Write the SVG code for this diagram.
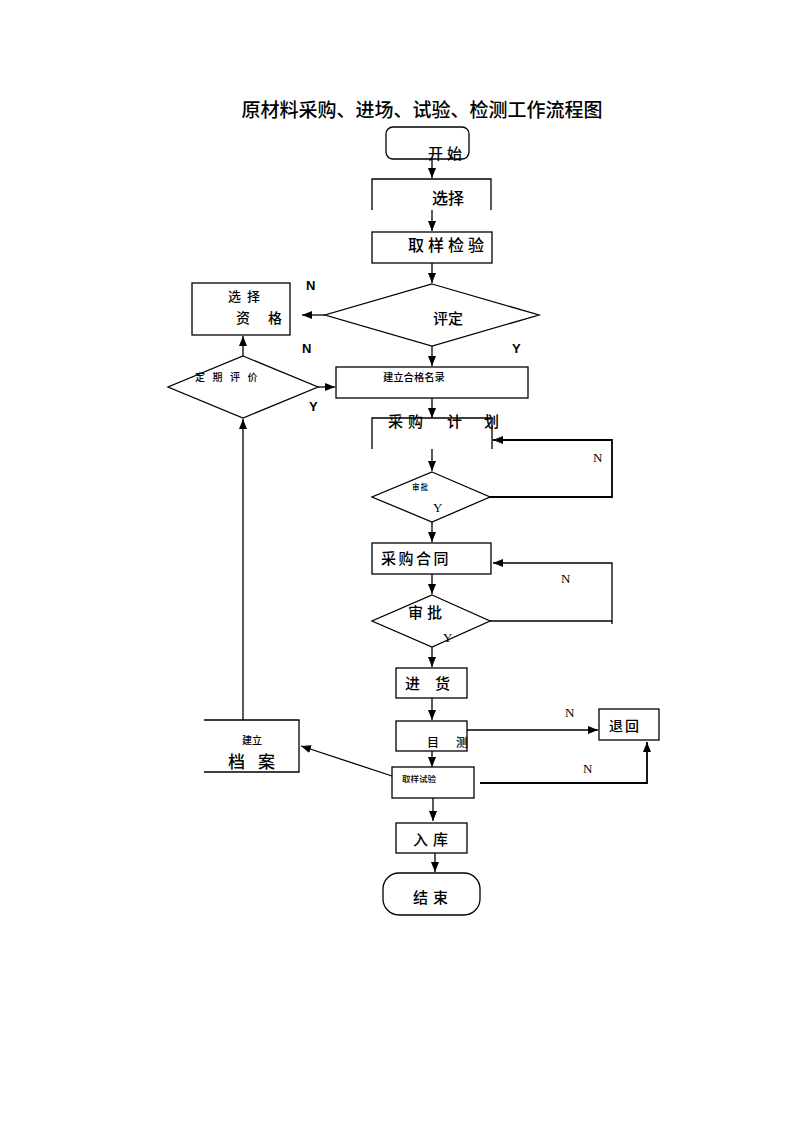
<svg xmlns="http://www.w3.org/2000/svg" width="793" height="1122" viewBox="0 0 793 1122">
<style>
.s{fill:none;stroke:#000;stroke-width:1.3}
.w{fill:#fff;stroke:#000;stroke-width:1.3}
.t{font-family:"Noto Sans CJK SC","Liberation Sans",sans-serif;font-weight:500;fill:#000}
.b{font-family:"Liberation Sans",Arial,sans-serif;font-weight:bold;font-size:13px;fill:#000}
.r{font-family:"Liberation Serif","Times New Roman",serif;font-size:13px;fill:#000}
.c line,.c polyline,.c path{fill:none;stroke:#000;stroke-width:1.3}
</style>
<defs>
<marker id="a" markerUnits="userSpaceOnUse" markerWidth="10" markerHeight="10" viewBox="0 0 10 10" refX="10" refY="5" orient="auto">
<path d="M0,1 L10,5 L0,9 Z" fill="#000"/>
</marker>
</defs>
<rect width="793" height="1122" fill="#fff"/>
<text class="t" x="422" y="117" font-size="19" font-weight="bold" text-anchor="middle">原材料采购、进场、试验、检测工作流程图</text>

<g class="c" id="connectors">
<line x1="432" y1="159" x2="432" y2="178" marker-end="url(#a)"/>
<line x1="432" y1="210" x2="432" y2="231" marker-end="url(#a)"/>
<line x1="432" y1="263" x2="432" y2="283" marker-end="url(#a)"/>
<line x1="325" y1="315" x2="302" y2="315" marker-end="url(#a)"/>
<line x1="432" y1="346" x2="432" y2="366" marker-end="url(#a)"/>
<line x1="318" y1="387" x2="335" y2="387" marker-end="url(#a)"/>
<line x1="243" y1="356" x2="243" y2="336" marker-end="url(#a)"/>
<line x1="243" y1="720" x2="243" y2="419" marker-end="url(#a)"/>
<line x1="432" y1="398" x2="432" y2="418" marker-end="url(#a)"/>
<line x1="432" y1="449" x2="432" y2="471" marker-end="url(#a)"/>
<polyline points="490,497 612,497 612,440 493,440" marker-end="url(#a)" style="stroke-width:1.8"/>
<line x1="432" y1="522" x2="432" y2="542" marker-end="url(#a)"/>
<polyline points="490,621 612,621 612,563 493,563" marker-end="url(#a)"/>
<line x1="612" y1="621" x2="612" y2="624"/>
<line x1="432" y1="574" x2="432" y2="594" marker-end="url(#a)"/>
<line x1="432" y1="647" x2="432" y2="667" marker-end="url(#a)"/>
<line x1="432" y1="698" x2="432" y2="720" marker-end="url(#a)"/>
<line x1="467" y1="730" x2="598" y2="730" marker-end="url(#a)"/>
<line x1="432" y1="751" x2="432" y2="767" marker-end="url(#a)"/>
<polyline points="480,783 647,783 647,742" marker-end="url(#a)" style="stroke-width:1.8"/>
<line x1="392" y1="776" x2="301" y2="746" marker-end="url(#a)"/>
<line x1="433" y1="798" x2="433" y2="821" marker-end="url(#a)"/>
<line x1="435" y1="853" x2="435" y2="872" marker-end="url(#a)"/>
</g>

<g id="start"><rect class="s" x="386" y="127" width="83" height="32" rx="7"/><text class="t" x="428" y="159" font-size="15" letter-spacing="4">开始</text></g>
<g id="select"><path class="s" d="M372,210 V179 H491 V210"/><text class="t" x="432" y="204" font-size="16">选择</text></g>
<g id="sample"><rect class="s" x="372" y="232" width="120" height="31"/><text class="t" x="408" y="251" font-size="16" letter-spacing="4">取样检验</text></g>
<g id="evaluate"><polygon class="w" points="432,284 539,315 432,346 325,315"/><text class="t" x="433" y="324" font-size="15">评定</text></g>
<g id="qualify"><rect class="s" x="192" y="283" width="98" height="52"/><text class="t" x="228" y="301" font-size="13" letter-spacing="6">选择</text><text class="t" x="236" y="323" font-size="14" letter-spacing="18">资格</text></g>
<g id="periodic"><polygon class="w" points="243,356 318,387 243,418 168,387"/><text class="t" x="195" y="381" font-size="10" letter-spacing="7.5">定期评价</text></g>
<g id="register"><rect class="s" x="336" y="367" width="192" height="31"/><text class="t" x="383" y="381" font-size="10.3">建立合格名录</text></g>
<g id="plan"><path class="s" d="M372,449 V418 H492 V449"/><text class="t" font-size="15" y="427"><tspan x="388">采</tspan><tspan x="408">购</tspan><tspan x="447">计</tspan><tspan x="484">划</tspan></text></g>
<g id="approve1"><polygon class="w" points="432,472 490,497 432,522 372,497"/><text class="t" x="412" y="490" font-size="7.5" letter-spacing="1">审批</text><text class="r" x="433" y="512">Y</text></g>
<g id="contract"><rect class="s" x="372" y="543" width="119" height="31"/><text class="t" x="381" y="564" font-size="15" letter-spacing="2.5">采购合同</text></g>
<g id="approve2"><polygon class="w" points="432,595 490,621 432,647 372,621"/><text class="t" x="408" y="618" font-size="15" letter-spacing="4">审批</text><text class="r" x="443" y="642">Y</text></g>
<g id="goods"><rect class="s" x="396" y="668" width="71" height="30"/><text class="t" x="405" y="689" font-size="15" letter-spacing="15">进货</text></g>
<g id="inspect"><rect class="s" x="396" y="721" width="71" height="30"/><text class="t" font-size="12" y="747"><tspan x="427">目</tspan><tspan x="456">测</tspan></text></g>
<g id="return"><rect class="s" x="599" y="709" width="60" height="31"/><text class="t" x="609" y="731" font-size="14" letter-spacing="2">退回</text></g>
<g id="test"><rect class="s" x="392" y="767" width="82" height="31"/><text class="t" x="402" y="782" font-size="8.5">取样试验</text></g>
<g id="archive"><path class="s" d="M204,720 H299 V772 H204"/><text class="t" x="242" y="744" font-size="10">建立</text><text class="t" x="228" y="768" font-size="17" letter-spacing="13">档案</text></g>
<g id="store"><rect class="s" x="396" y="823" width="71" height="30"/><text class="t" x="413" y="845" font-size="15" letter-spacing="5">入库</text></g>
<g id="end"><rect class="s" x="383" y="873" width="97" height="42" rx="16"/><text class="t" x="413" y="903" font-size="15" letter-spacing="5">结束</text></g>

<g id="labels">
<text class="b" x="306" y="290">N</text>
<text class="b" x="302" y="353">N</text>
<text class="b" x="512" y="353">Y</text>
<text class="b" x="309" y="411">Y</text>
<text class="r" x="593" y="462">N</text>
<text class="r" x="561" y="583">N</text>
<text class="r" x="565" y="717">N</text>
<text class="r" x="583" y="773">N</text>
</g>
</svg>
